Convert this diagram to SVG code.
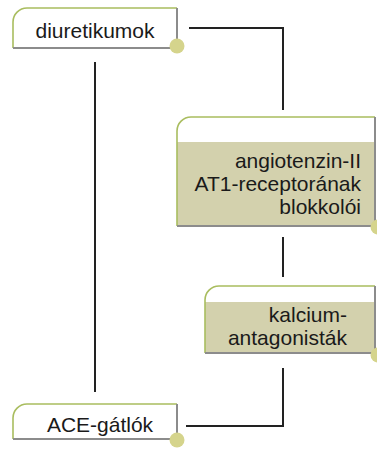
<svg xmlns="http://www.w3.org/2000/svg" width="377" height="453" viewBox="0 0 377 453">
<style>
.bg{fill:#ffffff}
.tan{fill:#d3d1ad}
.gr{fill:none;stroke:#a9bd5f;stroke-width:1.6}
.gy{fill:none;stroke:#8c8c8c;stroke-width:2}
.dot{fill:#d5d48c}
.t{font-family:"Liberation Sans",Arial,sans-serif;font-size:21px;fill:#1a1a1a}
.c{fill:none;stroke:#222222;stroke-width:2}
</style>
<rect width="377" height="453" fill="#ffffff"/>
<g id="connectors">
<path class="c" d="M95 62 V392"/>
<path class="c" d="M189 28 H283 V110"/>
<path class="c" d="M283 237 V277"/>
<path class="c" d="M283 368 V426 H186"/>
</g>
<g id="diuretikumok">
<path class="bg" d="M13 48 V22 A14 14 0 0 1 27 8 H177 V48 Z"/>
<path class="gr" d="M13 48 V22 A14 14 0 0 1 27 8 H177"/>
<path class="gy" d="M177 8 V48 H13"/>
<circle class="dot" cx="177" cy="46" r="7.5"/>
<text class="t" x="95" y="38" text-anchor="middle">diuretikumok</text>
</g>
<g id="angiotenzin">
<path class="bg" d="M177 226 V131 A14 14 0 0 1 191 117 H375 V226 Z"/>
<rect class="tan" x="177" y="142" width="198" height="84"/>
<path class="gr" d="M177 226 V131 A14 14 0 0 1 191 117 H375"/>
<path class="gy" d="M375 117 V226 H177"/>
<circle class="dot" cx="378" cy="227" r="7.5"/>
<text class="t" text-anchor="end"><tspan x="361" y="168">angiotenzin-II</tspan><tspan x="361" y="191">AT1-receptorának</tspan><tspan x="361" y="214">blokkolói</tspan></text>
</g>
<g id="kalcium">
<path class="bg" d="M205 353 V300 A14 14 0 0 1 219 286 H375 V353 Z"/>
<rect class="tan" x="205" y="302" width="170" height="51"/>
<path class="gr" d="M205 353 V300 A14 14 0 0 1 219 286 H375"/>
<path class="gy" d="M375 286 V353 H205"/>
<circle class="dot" cx="378" cy="355" r="7.5"/>
<text class="t" text-anchor="end"><tspan x="347" y="322">kalcium-</tspan><tspan x="347" y="345">antagonisták</tspan></text>
</g>
<g id="ace">
<path class="bg" d="M13 439 V418 A14 14 0 0 1 27 404 H177 V439 Z"/>
<path class="gr" d="M13 439 V418 A14 14 0 0 1 27 404 H177"/>
<path class="gy" d="M177 404 V439 H13"/>
<circle class="dot" cx="177" cy="440" r="7.5"/>
<text class="t" x="100" y="432" text-anchor="middle">ACE-gátlók</text>
</g>
</svg>
